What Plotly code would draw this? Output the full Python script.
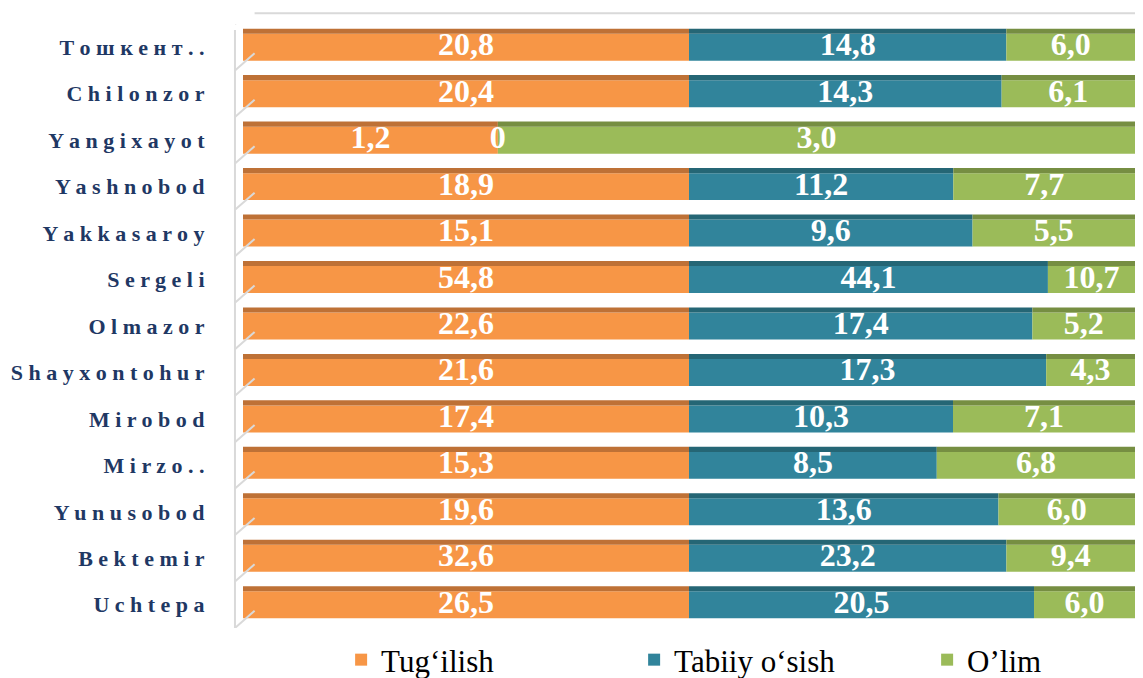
import plotly.graph_objects as go
import pandas as pd

districts = ["Тошкент..", "Chilonzor", "Yangixayot", "Yashnobod", "Yakkasaroy", "Sergeli",
             "Olmazor", "Shayxontohur", "Mirobod", "Mirzo..", "Yunusobod", "Bektemir", "Uchtepa"]
births = [20.8, 20.4, 1.2, 18.9, 15.1, 54.8, 22.6, 21.6, 17.4, 15.3, 19.6, 32.6, 26.5]
growth = [14.8, 14.3, 0, 11.2, 9.6, 44.1, 17.4, 17.3, 10.3, 8.5, 13.6, 23.2, 20.5]
deaths = [6.0, 6.1, 3.0, 7.7, 5.5, 10.7, 5.2, 4.3, 7.1, 6.8, 6.0, 9.4, 6.0]

series = ["Tug‘ilish", "Tabiiy o‘sish", "O’lim"]
colors = ["#F79646", "#31849B", "#9BBB59"]
tops = ["#BE7136", "#256675", "#768E42"]

SERIF = "Liberation Serif"

df = pd.DataFrame({"d": districts, series[0]: births, series[1]: growth, series[2]: deaths})
total = df[series].sum(axis=1)
pct = df[series].div(total, axis=0) * 100
starts = pct.cumsum(axis=1) - pct

def fmt(v):
    return "0" if v == 0 else f"{v:.1f}".replace(".", ",")

def spaced(s):
    return " ".join(list(s))

W = 0.58
TW = 0.11
fig = go.Figure()
for s, c, t in zip(series, colors, tops):
    fig.add_trace(go.Bar(y=df.d, x=pct[s], base=starts[s], orientation="h", name=s,
                         marker=dict(color=c, line=dict(width=0)), width=W, hoverinfo="skip"))
    # darker strip on top to fake the 3D face
    fig.add_trace(go.Bar(y=df.d, x=pct[s], base=starts[s], orientation="h", showlegend=False,
                         marker=dict(color=t, line=dict(width=0)), width=TW,
                         offset=-(W / 2 + TW), hoverinfo="skip"))

for s in series:
    fig.add_trace(go.Scatter(y=df.d, x=starts[s] + pct[s] / 2, mode="text",
                             text=[fmt(v) for v in df[s]], showlegend=False, hoverinfo="skip",
                             textfont=dict(family=SERIF, size=32, color="white", weight="bold")))

# back wall lines
fig.add_shape(type="line", xref="paper", yref="paper", x0=-0.009, x1=-0.009, y0=0, y1=0.99,
              line=dict(color="#D9D9D9", width=2))
fig.add_shape(type="line", xref="paper", yref="paper", x0=0.013, x1=1.01, y0=1.018, y1=1.018,
              line=dict(color="#D9D9D9", width=2))
for i in range(len(districts) + 1):
    fig.add_shape(type="line", xref="paper", yref="y", x0=-0.009, x1=0.013,
                  y0=i - 0.5, y1=i - 0.5 - 0.37, line=dict(color="#D9D9D9", width=2))

fig.update_layout(
    width=1135, height=670, barmode="overlay", plot_bgcolor="white", paper_bgcolor="white",
    margin=dict(l=235, r=8, t=16, b=50, autoexpand=False),
    legend=dict(orientation="h", x=0.11, y=-0.053, xanchor="left", yanchor="middle",
                entrywidth=248, entrywidthmode="pixels",
                font=dict(family=SERIF, size=31, color="black")),
)
fig.update_xaxes(range=[0, 100], showgrid=False, showticklabels=False, zeroline=False,
                 automargin=False)
fig.update_yaxes(range=[12.5, -0.5], tickvals=districts, ticktext=[spaced(d) for d in districts],
                 tickfont=dict(family=SERIF, size=22, color="#1F3864", weight="bold"),
                 ticks="outside", ticklen=33, tickcolor="rgba(0,0,0,0)", showgrid=False,
                 automargin=False)

fig.write_html("out.html")
